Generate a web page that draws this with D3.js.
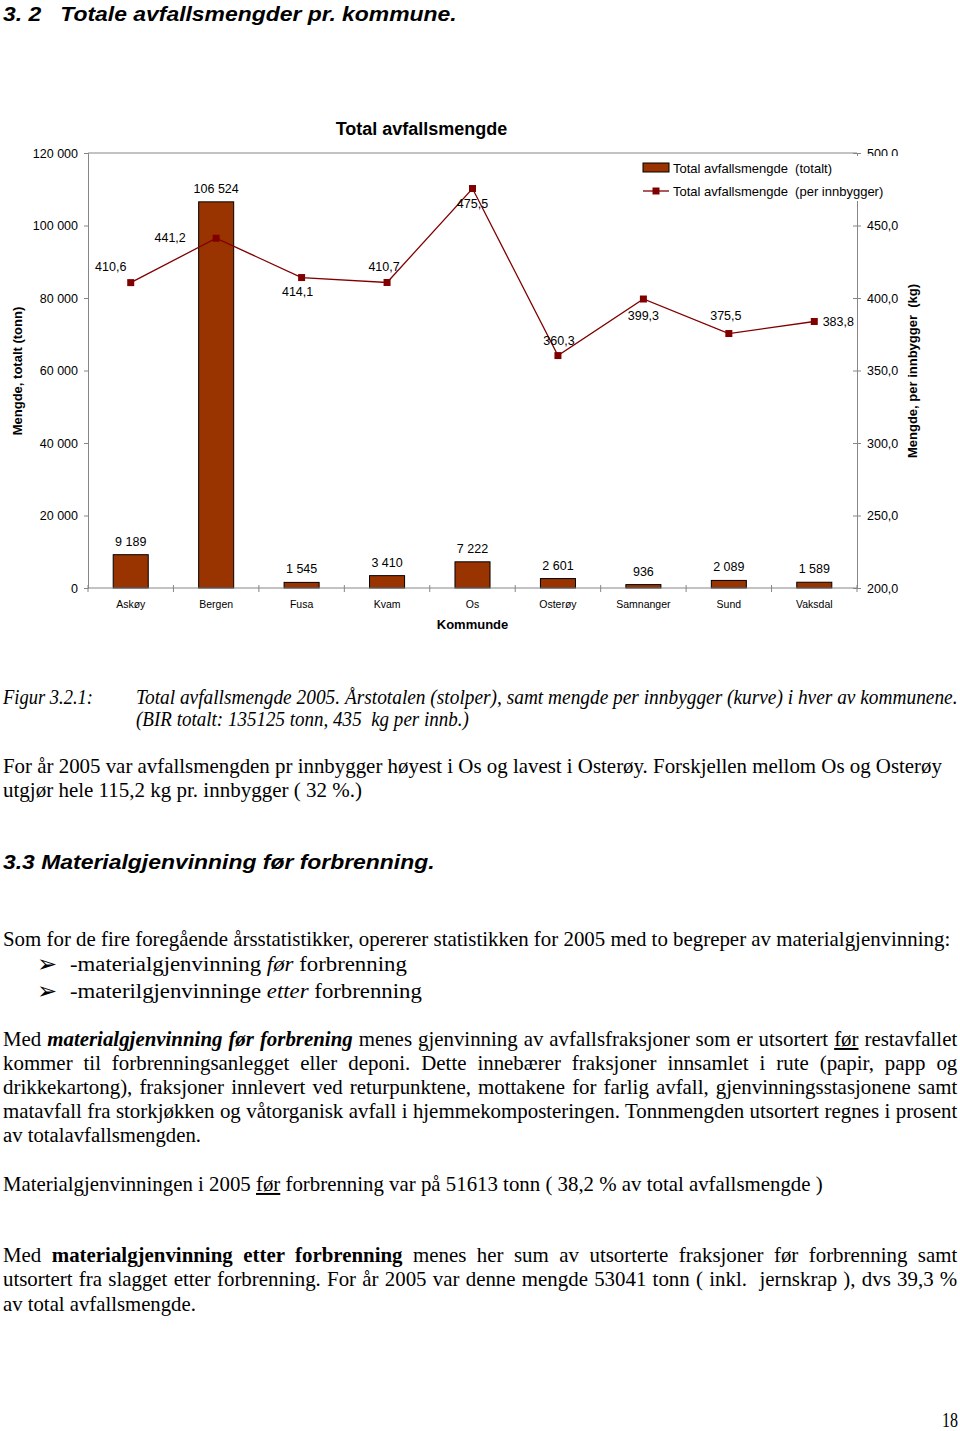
<!DOCTYPE html>
<html><head><meta charset="utf-8">
<script src="https://cdn.jsdelivr.net/npm/d3@7"></script>
<style>body{margin:0;background:#fff} svg{display:block} text{white-space:pre}</style>
</head><body>
<svg id="page" width="960" height="1431"></svg>
<script>
// ---------- data ----------
const categories = ["Askøy","Bergen","Fusa","Kvam","Os","Osterøy","Samnanger","Sund","Vaksdal"];
const totalTonn = [9189,106524,1545,3410,7222,2601,936,2089,1589];
const perInnbygger = [410.6,441.2,414.1,410.7,475.5,360.3,399.3,375.5,383.8];
const leftTicks = [0,20000,40000,60000,80000,100000,120000];
const rightTicks = [200,250,300,350,400,450,500];
const seriesNames = ["Total avfallsmengde  (totalt)","Total avfallsmengde  (per innbygger)"];
const chartTitle = "Total avfallsmengde";
const xTitle = "Kommunde";
const yLeftTitle = "Mengde, totalt (tonn)";
const yRightTitle = "Mengde, per innbygger  (kg)";

// ---------- layout ----------
const sans = "'Liberation Sans', Arial, sans-serif";
const serif = "'Liberation Serif', 'Times New Roman', serif";
const svg = d3.select("#page");
const P = {l:88, r:857, t:153, b:588};
const barColor = "#993300", lineColor = "#800000", axisColor = "#868686";
const loc = d3.formatLocale({decimal:",", thousands:"\u00a0", grouping:[3], currency:["",""]});
const fmtInt = loc.format(",d"), fmt1 = loc.format(".1f");

const x = d3.scaleBand().domain(categories).range([P.l,P.r]).paddingInner(0.59).paddingOuter(0.295);
const yL = d3.scaleLinear().domain([0,120000]).range([P.b,P.t]);
const yR = d3.scaleLinear().domain([200,500]).range([P.b,P.t]);
const cx = c => x(c) + x.bandwidth()/2;

const g = svg.append("g").attr("font-family", sans);

// frame top line
g.append("line").attr("x1",P.l).attr("x2",P.r).attr("y1",P.t).attr("y2",P.t).attr("stroke",axisColor);

// left axis
const aL = g.append("g").attr("transform",`translate(${P.l},0)`)
  .call(d3.axisLeft(yL).tickValues(leftTicks).tickSize(4).tickPadding(6).tickFormat(fmtInt));
aL.select(".domain").attr("stroke",axisColor);
aL.selectAll(".tick line").attr("stroke",axisColor);
aL.selectAll(".tick text").attr("font-size",12.5).attr("font-family",sans).attr("fill","#000");

// right axis
const aR = g.append("g").attr("transform",`translate(${P.r},0)`)
  .call(d3.axisRight(yR).tickValues(rightTicks).tickSize(4).tickPadding(6).tickFormat(fmt1));
aR.select(".domain").attr("stroke",axisColor);
aR.selectAll(".tick line").attr("stroke",axisColor).attr("x1",-4);
aR.selectAll(".tick text").attr("font-size",12.5).attr("font-family",sans).attr("fill","#000");

// bars
g.selectAll("rect.bar").data(categories).join("rect").attr("class","bar")
  .attr("x", c=>x(c)).attr("width", x.bandwidth())
  .attr("y", (c,i)=>yL(totalTonn[i])).attr("height",(c,i)=>yL(0)-yL(totalTonn[i]))
  .attr("fill",barColor).attr("stroke","#000").attr("stroke-width",1);

// bottom axis
g.append("line").attr("x1",P.l).attr("x2",P.r).attr("y1",P.b).attr("y2",P.b).attr("stroke",axisColor);
g.selectAll("line.cb").data(d3.range(categories.length+1)).join("line").attr("class","cb")
  .attr("x1",i=>P.l+i*x.step()).attr("x2",i=>P.l+i*x.step()).attr("y1",P.b-3).attr("y2",P.b+4).attr("stroke",axisColor);
g.selectAll("text.cat").data(categories).join("text").attr("class","cat")
  .attr("x",cx).attr("y",P.b+20).attr("text-anchor","middle").attr("font-size",10.5).text(c=>c);

// bar labels
g.selectAll("text.bl").data(categories).join("text").attr("class","bl")
  .attr("x",cx).attr("y",(c,i)=>yL(totalTonn[i])-9).attr("text-anchor","middle").attr("font-size",12.5)
  .text((c,i)=>fmtInt(totalTonn[i]));

// line series
const line = d3.line().x((d,i)=>cx(categories[i])).y(d=>yR(d));
g.append("path").datum(perInnbygger).attr("d",line).attr("fill","none").attr("stroke",lineColor).attr("stroke-width",1.3);
g.selectAll("rect.mk").data(perInnbygger).join("rect").attr("class","mk")
  .attr("x",(d,i)=>cx(categories[i])-3.5).attr("y",d=>yR(d)-3.5).attr("width",7).attr("height",7).attr("fill",lineColor);

// line labels (placement offsets relative to marker)
const lineLabelOffsets = [[-20,-16],[-46,-1],[-4,14],[-3,-16],[0,15],[1,-15],[0,17],[-3,-18],[24,0]];
g.selectAll("text.ll").data(perInnbygger).join("text").attr("class","ll")
  .attr("x",(d,i)=>cx(categories[i])+lineLabelOffsets[i][0])
  .attr("y",(d,i)=>yR(d)+lineLabelOffsets[i][1]).attr("dy","0.35em")
  .attr("text-anchor","middle").attr("font-size",12.5).text(d=>fmt1(d));

// legend (white background overlaps axis top)
const lg = g.append("g");
lg.append("rect").attr("x",637).attr("y",156).attr("width",268).attr("height",45).attr("fill","#fff");
lg.append("rect").attr("x",643).attr("y",163).attr("width",26).attr("height",9).attr("fill",barColor).attr("stroke","#000");
lg.append("text").attr("x",673).attr("y",168).attr("dy","0.35em").attr("font-size",13).text(seriesNames[0]);
lg.append("line").attr("x1",643).attr("x2",669).attr("y1",191).attr("y2",191).attr("stroke",lineColor).attr("stroke-width",1.3);
lg.append("rect").attr("x",652.5).attr("y",187.5).attr("width",7).attr("height",7).attr("fill",lineColor);
lg.append("text").attr("x",673).attr("y",191).attr("dy","0.35em").attr("font-size",13).text(seriesNames[1]);

// titles
g.append("text").attr("x",421.5).attr("y",135).attr("text-anchor","middle").attr("font-size",18).attr("font-weight","bold").text(chartTitle);
g.append("text").attr("x",(P.l+P.r)/2).attr("y",629).attr("text-anchor","middle").attr("font-size",13).attr("font-weight","bold").text(xTitle);
g.append("text").attr("transform","translate(22,371) rotate(-90)").attr("text-anchor","middle").attr("font-size",13).attr("font-weight","bold").text(yLeftTitle);
g.append("text").attr("transform","translate(917,371) rotate(-90)").attr("text-anchor","middle").attr("font-size",13).attr("font-weight","bold").text(yRightTitle);

// ---------- page text ----------
const lines = [
 {x:3,y:21,w:454,sans:true,size:21,bold:true,italic:true,segs:["3. 2   Totale avfallsmengder pr. kommune."]},
 {x:3,y:704,w:90,italic:true,segs:["Figur 3.2.1:"]},
 {x:136,y:704,w:822,italic:true,segs:["Total avfallsmengde 2005. Årstotalen (stolper), samt mengde per innbygger (kurve) i hver av kommunene."]},
 {x:136,y:726,w:333,italic:true,segs:["(BIR totalt: 135125 tonn, 435  kg per innb.)"]},
 {x:3,y:773,w:940,segs:["For år 2005 var avfallsmengden pr innbygger høyest i Os og lavest i Osterøy. Forskjellen mellom Os og Osterøy"]},
 {x:3,y:797,w:359,segs:["utgjør hele 115,2 kg pr. innbygger ( 32 %.)"]},
 {x:3,y:869,w:432,sans:true,size:21,bold:true,italic:true,segs:["3.3 Materialgjenvinning før forbrenning."]},
 {x:3,y:946,w:948,segs:["Som for de fire foregående årsstatistikker, opererer statistikken for 2005 med to begreper av materialgjenvinning:"]},
 {x:70,y:971,w:337,segs:["-materialgjenvinning ",["før","i"]," forbrenning"]},
 {x:70,y:998,w:352,segs:["-materilgjenvinninge ",["etter","i"]," forbrenning"]},
 {x:3,y:1046,w:955,justify:true,segs:["Med ",["materialgjenvinning før forbrening","bi"]," menes gjenvinning av avfallsfraksjoner som er utsortert ",["før","u"]," restavfallet"]},
 {x:3,y:1070,w:955,justify:true,segs:["kommer til forbrenningsanlegget eller deponi. Dette innebærer fraksjoner innsamlet i rute (papir, papp og"]},
 {x:3,y:1094,w:955,justify:true,segs:["drikkekartong), fraksjoner innlevert ved returpunktene, mottakene for farlig avfall, gjenvinningsstasjonene samt"]},
 {x:3,y:1118,w:955,justify:true,segs:["matavfall fra storkjøkken og våtorganisk avfall i hjemmekomposteringen. Tonnmengden utsortert regnes i prosent"]},
 {x:3,y:1142,w:198,segs:["av totalavfallsmengden."]},
 {x:3,y:1191,w:820,segs:["Materialgjenvinningen i 2005 ",["før","u"]," forbrenning var på 51613 tonn ( 38,2 % av total avfallsmengde )"]},
 {x:3,y:1262,w:955,justify:true,segs:["Med ",["materialgjenvinning etter forbrenning","b"]," menes her sum av utsorterte fraksjoner før forbrenning samt"]},
 {x:3,y:1286,w:955,justify:true,segs:["utsortert fra slagget etter forbrenning. For år 2005 var denne mengde 53041 tonn ( inkl.  jernskrap ), dvs 39,3 %"]},
 {x:3,y:1311,w:193,segs:["av total avfallsmengde."]},
 {x:942,y:1427,w:16,segs:["18"]}
];
const tg = svg.append("g");
let k = 1;
function build(L){
  const t = tg.append("text").attr("xml:space","preserve")
    .attr("font-family",L.sans?sans:serif).attr("font-size",L.size||20)
    .attr("font-weight",L.bold?"bold":null).attr("font-style",L.italic?"italic":null);
  L.segs.forEach(s=>{
    const [str,st] = typeof s==="string"?[s,""]:s;
    const ts = t.append("tspan").text(str);
    if(st.includes("i")) ts.attr("font-style","italic");
    if(st.includes("b")) ts.attr("font-weight","bold");
    if(st.includes("u")) ts.attr("text-decoration","underline");
  });
  return t;
}
// reference condensation from a natural-width serif line
const ref = build(lines[7]); k = lines[7].w / ref.node().getComputedTextLength(); ref.remove();
lines.forEach(L=>{
  const t = build(L);
  const W = t.node().getComputedTextLength();
  let sx = L.w / W;
  if(L.justify){
    const n = L.segs.map(s=>typeof s==="string"?s:s[0]).join("").split(" ").length-1;
    const extra = L.w/k - W;
    if(extra>0){ t.attr("word-spacing", extra/n); sx = k; }
  }
  t.attr("transform",`translate(${L.x},${L.y}) scale(${sx},1)`);
});
// bullets
[972,999].forEach(yy=>tg.append("text").attr("x",37).attr("y",yy).attr("font-family","'DejaVu Sans'").attr("font-size",24).text("\u27A2"));
</script>
</body></html>
